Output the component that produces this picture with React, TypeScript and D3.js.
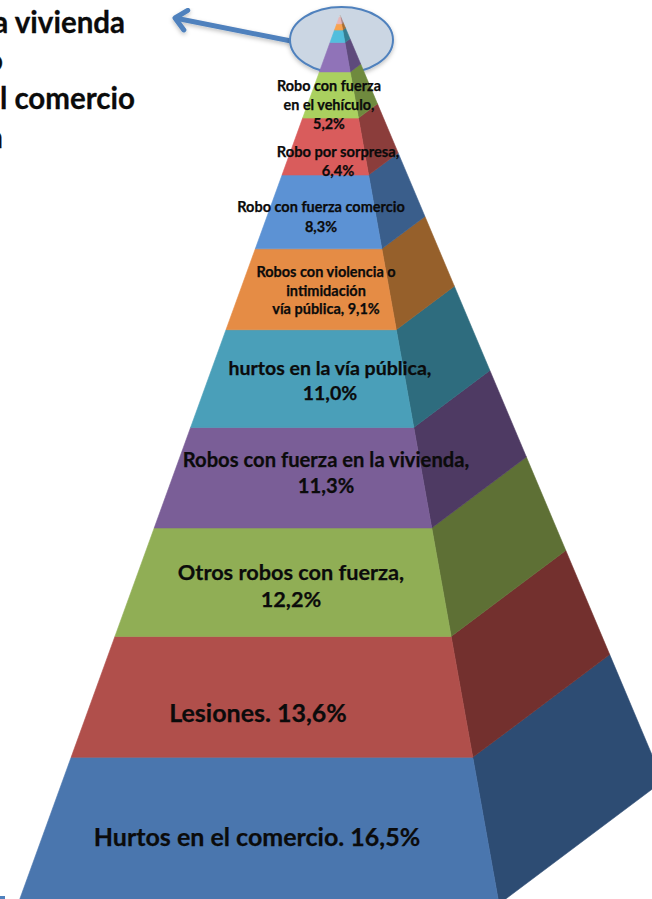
import React from "react";
import * as d3 from "d3";

// Slices from the base of the pyramid to its apex (percentages)
const categories = ["Hurtos en el comercio","Lesiones","Otros robos con fuerza","Robos con fuerza en la vivienda","hurtos en la vía pública","Robos con violencia o intimidación vía pública","Robo con fuerza comercio","Robo por sorpresa","Robo con fuerza en el vehículo","Otros 1","Otros 2","Otros 3","Otros 4","Otros 5"];
const values = [16.5,13.6,12.2,11.3,11.0,9.1,8.3,6.4,5.2,3.3,1.4,0.7,0.8,0.2];
const frontColors = ["#4A76AE","#B04F4B","#90AE55","#7A5E97","#4A9FB9","#E58C45","#5C92D4","#D95C5C","#AAD05F","#9073B8","#52BEDD","#F9A24E","#E8B7B7","#D8D8D8"];
const sideColors = ["#2D4C73","#73302E","#5E7035","#4E3A63","#2E6C7E","#96602B","#3A5E8B","#8B3D3B","#6F8A3E","#5E4A7C","#357E92","#A66C32","#A88282","#999999"];

const labelLines = [
  ["Hurtos en el comercio. 16,5%"],
  ["Lesiones. 13,6%"],
  ["Otros robos con fuerza,","12,2%"],
  ["Robos con fuerza en la vivienda,","11,3%"],
  ["hurtos en la vía pública,","11,0%"],
  ["Robos con violencia o","intimidación","vía pública, 9,1%"],
  ["Robo con fuerza comercio","8,3%"],
  ["Robo por sorpresa,","6,4%"],
  ["Robo con fuerza","en el vehículo,","5,2%"],
];
const labelX = [257,258,291,326,330,326,321,338,329];
const labelY = [846,722,580,467,375,277,212,157,91];
const labelSize = [25,25,21.7,20.2,19.5,14.5,14.5,14.7,14.4];
const labelStep = [0,0,27,26,25,18.5,20,19,19];
const sideText = ["a vivienda","o","l comercio","n"];
const sideTextEnd = [125,3,135,3];
const sideTextY = [33,71,109,148];

// Linear maps from cumulative share (0 = base, 100 = apex) to pixels
const yFront = d3.scaleLinear().domain([0,100]).range([904,15]);
const xFrontLeft = d3.scaleLinear().domain([0,100]).range([18,340]);
const xFrontRight = d3.scaleLinear().domain([0,100]).range([499,340]);
const xBack = d3.scaleLinear().domain([0,100]).range([663,340]);
const yBack = d3.scaleLinear().domain([0,100]).range([781,15]);

const poly = d3.line<[number,number]>();
const FONT = "Lato, Carlito, Calibri, sans-serif";

export default function App() {
  const cum = [0, ...d3.cumsum(values)];
  return (
    <svg width={652} height={899} style={{position:"fixed",left:0,top:0,background:"#fff",display:"block"}} fontFamily={FONT}>
      <defs>
        <filter id="soft" x="-20%" y="-40%" width="140%" height="180%">
          <feDropShadow dx="0" dy="2" stdDeviation="2" floodColor="#000" floodOpacity="0.25"/>
        </filter>
        <marker id="head" viewBox="-14 -14 28 28" markerWidth="28" markerHeight="28" refX="0" refY="0" orient="auto" markerUnits="userSpaceOnUse">
          <path d="M-11,-10 L0,0 L-11,10" fill="none" stroke="#4F81BD" strokeWidth="5" strokeLinecap="round" strokeLinejoin="round"/>
        </marker>
      </defs>
      <line x1={291} y1={41} x2={175} y2={18} stroke="#4F81BD" strokeWidth={5} markerEnd="url(#head)" filter="url(#soft)"/>
      <ellipse cx={341.5} cy={40} rx={51.5} ry={33} fill="#CBD6E3" stroke="#4F81BD" strokeWidth={2} filter="url(#soft)"/>
      {values.map((_, i) => {
        const a = cum[i], b = Math.min(cum[i+1],100);
        const front: [number,number][] = [[xFrontLeft(a),yFront(a)],[xFrontRight(a),yFront(a)],[xFrontRight(b),yFront(b)],[xFrontLeft(b),yFront(b)]];
        const side: [number,number][] = [[xFrontRight(a),yFront(a)],[xBack(a),yBack(a)],[xBack(b),yBack(b)],[xFrontRight(b),yFront(b)]];
        return (
          <g key={categories[i]}>
            <path d={poly(side)+"Z"} fill={sideColors[i]} stroke={sideColors[i]} strokeWidth={0.6}/>
            <path d={poly(front)+"Z"} fill={frontColors[i]} stroke={frontColors[i]} strokeWidth={0.6}/>
          </g>
        );
      })}
      {labelLines.map((lines,i) => (
        <text key={i} textAnchor="middle" fontWeight={700} fontSize={labelSize[i]} fill="#0b0b0b" stroke="#0b0b0b" strokeWidth={0.25}>
          {lines.map((t,j) => <tspan key={j} x={labelX[i]} y={labelY[i]+j*labelStep[i]}>{t}</tspan>)}
        </text>
      ))}
      {sideText.map((t,i) => (
        <text key={i} x={sideTextEnd[i]} y={sideTextY[i]} textAnchor="end" fontWeight={700} fontSize={29.5} fill="#0b0b0b" stroke="#0b0b0b" strokeWidth={0.3}>{t}</text>
      ))}
      <rect x={0} y={896} width={5} height={3} fill="#4F81BD"/>
    </svg>
  );
}
